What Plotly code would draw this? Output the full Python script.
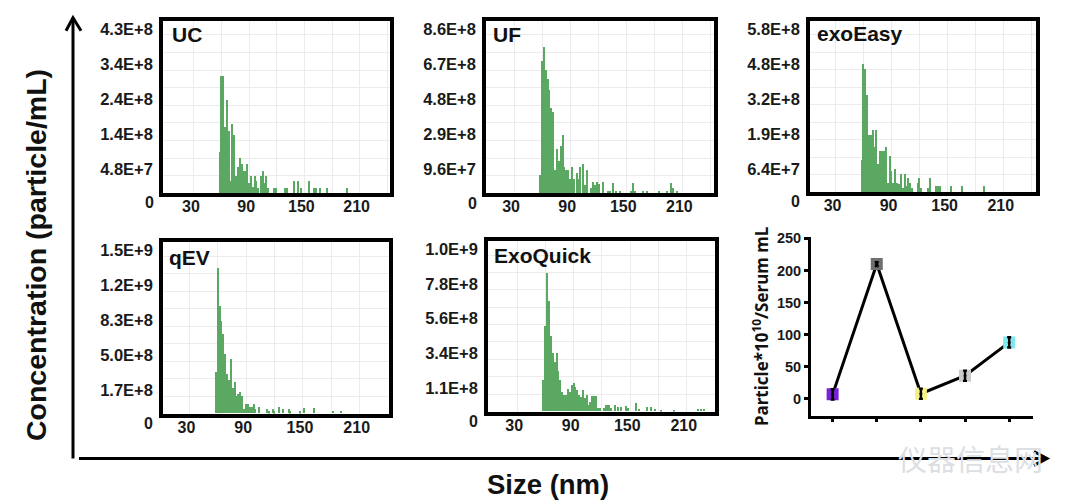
import plotly.graph_objects as go

W, H = 1080, 500

# Size bins (nm) and concentrations (in units of 1E+7 particle/mL)
uc_sizes = [58,60,62,64,66,68,70,72,74,76,78,80,82,84,86,88,90,92,94,96,98,100,103,105,107,109,111,117,119,129,131,139,143,147,155,161,163,167,175,196]
uc_values = [11.3,32,32,18,25.5,17,3.4,19,16,4.8,7.2,9.6,8,6.2,6.2,8,2.9,4.8,1.9,4.8,3.4,1.5,4.8,6.2,2.9,4.8,1.5,1.5,1.5,1.5,1.5,3.4,3.4,1.5,3.4,1.5,1.5,1.5,1.5,1.5]

uf_sizes = [58,60,62,64,66,68,70,72,74,76,78,80,82,84,86,88,90,92,94,97,99,101,104,106,108,112,115,117,119,121,125,131,133,136,139,144,155,157,159,168,172,185,194,198,200,204]
uf_values = [10,72,80,67.5,62.5,56.7,46.5,44.7,12.7,24,17.6,25.9,31.7,14.5,12.7,12.7,8,14.5,8,11.2,8,14.5,16,4.5,12.7,3,6.3,4.5,6,5,6.3,1.5,1.5,5.9,1.5,1.5,1.5,5.9,1.5,1.5,1.5,1.5,1.5,5.5,3,1.5]

ee_sizes = [58,60,62,64,66,68,70,72,74,76,78,80,82,84,86,88,90,92,94,96,98,100,102,104,106,108,110,112,118,120,122,129,131,138,140,142,154,165,189]
ee_values = [11.7,47,45.3,35.6,21,21,23,16.5,23,10.3,15,15,15,16.5,3.6,13.3,7.9,3.6,8.5,3.6,3.2,6.9,1.8,6.9,2.4,5.4,3.6,1.8,3.6,5.2,1.6,1.6,5.4,2.2,2.2,2.2,2.2,2.2,2.2]

qev_sizes = [58,60,62,64,66,68,70,72,74,76,78,80,82,84,86,88,90,92,94,96,98,100,104,112,114,118,120,125,129,135,137,147,151,162,182,190]
qev_values = [39.7,138.6,102.7,88,75.6,56.7,37.8,32.4,52,24.6,30.2,16.7,18.3,20.8,16.7,4.1,8.8,8.8,6.3,6.3,8.8,4.1,6.3,4.1,1.9,4.1,1.9,6.3,4.1,4.1,1.9,1.9,5,5,2.5,2.5]

eq_sizes = [58,60,62,64,66,68,70,72,74,76,78,80,82,84,86,88,90,92,94,96,98,100,102,104,106,108,110,112,114,116,118,122,124,126,128,130,134,137,140,146,148,156,160,168,172,176,183,197,222,225,228]
eq_values = [19.9,54.3,88.2,70.6,48,37.2,31.4,37.2,26,19.9,12.5,10.4,10.4,14.6,12.5,16.7,18.4,15.7,13.6,10.4,9.4,13.6,8.4,10.4,4.2,6.3,10,10,10,2.1,2.1,2.1,4.2,4.2,4.2,2.1,4.2,2.7,2.7,3.6,2,5.2,1.5,2.7,2.7,1.5,1,1,1.7,1.7,1.7]

uc_ticks = ["4.8E+7", "1.4E+8", "2.4E+8", "3.4E+8", "4.3E+8"]
uf_ticks = ["9.6E+7", "2.9E+8", "4.8E+8", "6.7E+8", "8.6E+8"]
ee_ticks = ["6.4E+7", "1.9E+8", "3.2E+8", "4.8E+8", "5.8E+8"]
qev_ticks = ["1.7E+8", "5.0E+8", "8.3E+8", "1.2E+9", "1.5E+9"]
eq_ticks = ["1.1E+8", "3.4E+8", "5.6E+8", "7.8E+8", "1.0E+9"]

x_ticks = [30, 90, 150, 210]
x_minor = [60, 120, 180, 240]

# Total-particle summary panel
methods = ["UC", "UF", "exoEasy", "qEV", "ExoQuick"]
totals = [7, 210, 8, 36, 88]
total_err = [8, 3, 8, 8, 8]
total_colors = ["#7b22d8", "#6f6f6f", "#f6f088", "#c9c9c9", "#80e8f0"]

panels = [
    # name, sizes, values, ticks, grid step(e7), frame px (l,t,r,b), x-range, name pos, zero-label pos
    ("UC", uc_sizes, uc_values, uc_ticks, 4.8, (163, 19, 390, 192), (-3.6, 243), (170, 33), (149, 201)),
    ("UF", uf_sizes, uf_values, uf_ticks, 9.6, (486, 19, 714, 192), (0, 243.8), (491, 33), (472, 202)),
    ("exoEasy", ee_sizes, ee_values, ee_ticks, 6.4, (810, 19, 1036, 191), (2.7, 244.5), (815, 32), (795, 200)),
    ("qEV", qev_sizes, qev_values, qev_ticks, 16.7, (163, 241, 389, 413), (2, 241), (167, 256), (148, 423)),
    ("ExoQuick", eq_sizes, eq_values, eq_ticks, 11.1, (488, 240, 715, 411), (-1, 240), (492, 254), (473, 421)),
]

FONT = "Liberation Sans"
GRID = "#ebebeb"
BAR = "#5aa862"


def px(x):
    return x / W


def py(y):
    return 1 - (y - 5.2) / 494.5


fig = go.Figure()
annotations = []

for i, (name, sizes, values, ticks, step, box, xr, npos, zpos) in enumerate(panels, start=1):
    l, t, r, b = box
    suffix = "" if i == 1 else str(i)
    xa = f"x{suffix}"
    ya = f"y{suffix}"
    fig.add_trace(go.Bar(
        x=sizes, y=[v * 1e7 for v in values], width=1.45,
        marker=dict(color=BAR, line=dict(width=0)),
        xaxis=xa, yaxis=ya, showlegend=False,
    ))
    g = step * 1e7
    fig.update_layout({
        f"xaxis{suffix}": dict(
            domain=[px(l), px(r)], range=list(xr), anchor=ya,
            tickmode="array", tickvals=x_ticks, ticktext=[str(v) for v in x_ticks],
            ticks="", showgrid=True, gridcolor=GRID, gridwidth=1, zeroline=False,
            minor=dict(tickmode="array", tickvals=x_minor, showgrid=True, gridcolor=GRID, gridwidth=1),
            showline=True, mirror=True, linecolor="black", linewidth=3.5,
            ticklabelshift=-3, ticklabelstandoff=-4,
            tickfont=dict(family=FONT, size=16, color="#1a1a1a", weight="bold"),
        ),
        f"yaxis{suffix}": dict(
            domain=[py(b), py(t)], range=[0, 9.8 * g], anchor=xa,
            tickmode="array", tickvals=[g * k for k in (1, 3, 5, 7, 9)], ticktext=ticks,
            ticks="", showgrid=True, gridcolor=GRID, gridwidth=1, zeroline=False,
            minor=dict(tickmode="array", tickvals=[g * k for k in (2, 4, 6, 8)], showgrid=True, gridcolor=GRID, gridwidth=1),
            showline=True, mirror=True, linecolor="black", linewidth=3.5,
            ticklabelshift=-6, ticklabelstandoff=3,
            tickfont=dict(family=FONT, size=16.5, color="#1a1a1a", weight="bold"),
        ),
    })
    annotations.append(dict(
        text=name, xref="paper", yref="paper", x=px(npos[0]), y=py(npos[1]),
        xanchor="left", yanchor="middle", showarrow=False,
        font=dict(family=FONT, size=21, color="#111111", weight="bold"),
    ))
    annotations.append(dict(
        text="0", xref="paper", yref="paper", x=px(zpos[0]), y=py(zpos[1]),
        xanchor="center", yanchor="middle", showarrow=False,
        font=dict(family=FONT, size=16, color="#1a1a1a", weight="bold"),
    ))

# Summary panel
xs = list(range(len(methods)))
fig.add_trace(go.Scatter(
    x=xs, y=totals, mode="lines", line=dict(color="black", width=3),
    xaxis="x6", yaxis="y6", showlegend=False,
))
fig.add_trace(go.Scatter(
    x=xs, y=totals, mode="markers",
    marker=dict(symbol="square", size=12, color=total_colors, line=dict(width=0)),
    xaxis="x6", yaxis="y6", showlegend=False,
))
fig.add_trace(go.Scatter(
    x=xs, y=totals, mode="markers",
    marker=dict(symbol="circle", size=3, color="black"),
    error_y=dict(type="data", array=total_err, color="black", thickness=2.4, width=2),
    xaxis="x6", yaxis="y6", showlegend=False,
))
fig.update_layout(
    xaxis6=dict(
        domain=[px(811), px(1033)], range=[-0.49, 4.54], anchor="y6",
        tickmode="array", tickvals=xs, showticklabels=False, ticks="outside", ticklen=3, tickwidth=2.5,
        tickcolor="black", showgrid=False, zeroline=False,
        showline=True, linecolor="black", linewidth=3,
    ),
    yaxis6=dict(
        domain=[py(415), py(236)], range=[-26, 252], anchor="x6",
        tickmode="array", tickvals=[0, 50, 100, 150, 200, 250], ticks="outside", ticklen=4, tickwidth=2.5,
        tickcolor="black", showgrid=False, zeroline=False,
        showline=True, linecolor="black", linewidth=3,
        tickfont=dict(family=FONT, size=14.5, color="#1a1a1a", weight="bold"),
        title=dict(text="Particle*10<sup>10</sup>/Serum mL", standoff=4,
                   font=dict(family="Noto Sans", size=17, color="#111111", weight="bold")),
    ),
)

annotations.extend([
    dict(text="Concentration (particle/mL)", xref="paper", yref="paper", x=px(36), y=py(254),
         textangle=-90, showarrow=False, xanchor="center", yanchor="middle",
         font=dict(family=FONT, size=28.5, color="#111111", weight="bold")),
    dict(text="Size (nm)", xref="paper", yref="paper", x=px(548), y=py(484),
         showarrow=False, xanchor="center", yanchor="middle",
         font=dict(family=FONT, size=27.5, color="#111111", weight="bold")),
    dict(text="仪器信息网", xref="paper", yref="paper", x=px(970), y=py(458),
         showarrow=False, xanchor="center", yanchor="middle",
         font=dict(family="Noto Sans CJK SC", size=29, color="#dcdfe3")),
])


def path(points):
    return "M " + " L ".join(f"{px(a):.5f} {py(b):.5f}" for a, b in points)


arrow_style = dict(type="path", xref="paper", yref="paper", line=dict(color="black", width=3))
shapes = [
    dict(path=path([(73, 458), (73, 16)]), **arrow_style),
    dict(path=path([(66, 29), (73, 16), (81, 29)]), **arrow_style),
    dict(path=path([(79, 458), (1047, 458)]), **arrow_style),
    dict(path=path([(1034, 451), (1047, 458), (1034, 465)]), **arrow_style),
]

fig.update_layout(
    width=W, height=H, margin=dict(l=0, r=0, t=0, b=0), autosize=False,
    paper_bgcolor="white", plot_bgcolor="white", bargap=0,
    annotations=annotations, shapes=shapes, showlegend=False,
)

fig.write_html("out.html", config={"displayModeBar": False},
               post_script="document.body.style.margin='0';")
